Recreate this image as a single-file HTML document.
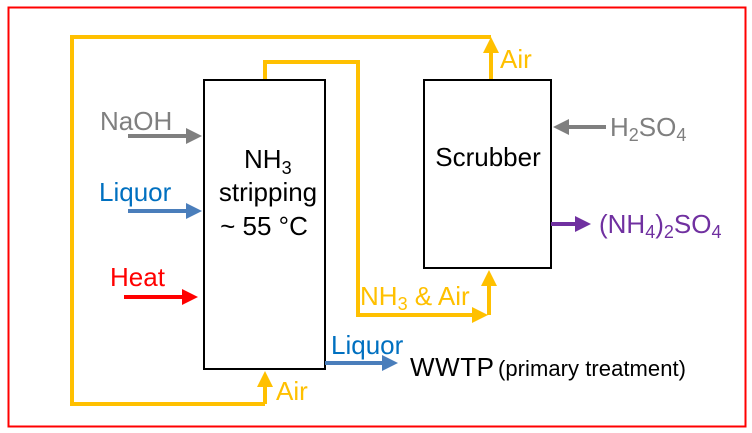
<!DOCTYPE html>
<html><head><meta charset="utf-8"><style>
body{margin:0;background:#fff;}
svg{display:block;font-family:"Liberation Sans",Arial,sans-serif;}
</style></head><body>
<svg width="752" height="433" viewBox="0 0 752 433">
<defs>
<marker id="ay" markerWidth="4" markerHeight="4" refX="3" refY="2" orient="auto" markerUnits="strokeWidth"><path d="M0,0 L4,2 L0,4 z" fill="#ffc000"/></marker>
<marker id="ag" markerWidth="4" markerHeight="4" refX="3" refY="2" orient="auto" markerUnits="strokeWidth"><path d="M0,0 L4,2 L0,4 z" fill="#7f7f7f"/></marker>
<marker id="ab" markerWidth="4" markerHeight="4" refX="3" refY="2" orient="auto" markerUnits="strokeWidth"><path d="M0,0 L4,2 L0,4 z" fill="#4a7ebb"/></marker>
<marker id="ar" markerWidth="4" markerHeight="4" refX="3" refY="2" orient="auto" markerUnits="strokeWidth"><path d="M0,0 L4,2 L0,4 z" fill="#ff0000"/></marker>
<marker id="ap" markerWidth="4" markerHeight="4" refX="3" refY="2" orient="auto" markerUnits="strokeWidth"><path d="M0,0 L4,2 L0,4 z" fill="#7030a0"/></marker>
</defs>
<rect x="8.5" y="7.5" width="737" height="419" fill="none" stroke="#ff0000" stroke-width="2"/>
<polyline points="265,404 72,404 72,37 491,37" fill="none" stroke="#ffc000" stroke-width="4"/>
<line x1="491" y1="82" x2="491" y2="41" stroke="#ffc000" stroke-width="4" marker-end="url(#ay)"/>
<line x1="265" y1="404" x2="265" y2="375" stroke="#ffc000" stroke-width="4" marker-end="url(#ay)"/>
<polyline points="265,80 265,62 358,62 358,315 484,315" fill="none" stroke="#ffc000" stroke-width="4" marker-end="url(#ay)"/>
<line x1="489" y1="315" x2="489" y2="274" stroke="#ffc000" stroke-width="4" marker-end="url(#ay)"/>
<rect x="204" y="80" width="121" height="289" fill="#fff" stroke="#000" stroke-width="2"/>
<rect x="424" y="80" width="127" height="188" fill="#fff" stroke="#000" stroke-width="2"/>
<line x1="128" y1="136" x2="198" y2="136" stroke="#7f7f7f" stroke-width="4" marker-end="url(#ag)"/>
<line x1="128" y1="211" x2="198" y2="211" stroke="#4a7ebb" stroke-width="4" marker-end="url(#ab)"/>
<line x1="124" y1="297" x2="194" y2="297" stroke="#ff0000" stroke-width="4" marker-end="url(#ar)"/>
<line x1="325" y1="363" x2="394" y2="363" stroke="#4a7ebb" stroke-width="4" marker-end="url(#ab)"/>
<line x1="606" y1="127" x2="557" y2="127" stroke="#7f7f7f" stroke-width="4" marker-end="url(#ag)"/>
<line x1="551" y1="224" x2="587" y2="224" stroke="#7030a0" stroke-width="4" marker-end="url(#ap)"/>
<g font-size="26">
<text x="100" y="130" fill="#7f7f7f">NaOH</text>
<text x="99" y="201" fill="#0070c0">Liquor</text>
<text x="110" y="286" fill="#ff0000">Heat</text>
<text x="244" y="168" fill="#000">NH<tspan font-size="18" dy="6">3</tspan></text>
<text x="268" y="201" fill="#000" text-anchor="middle">stripping</text>
<text x="264" y="235" fill="#000" text-anchor="middle">~ 55 °C</text>
<text x="488" y="166" fill="#000" text-anchor="middle">Scrubber</text>
<text x="500" y="68" fill="#ffc000">Air</text>
<text x="276" y="400" fill="#ffc000">Air</text>
<text x="360" y="305" fill="#ffc000">NH<tspan font-size="18" dy="5">3</tspan><tspan dy="-5"> &amp; Air</tspan></text>
<text x="331" y="354" fill="#0070c0">Liquor</text>
<text x="410" y="376" fill="#000" textLength="84">WWTP</text>
<text x="498" y="376" font-size="22" fill="#000" textLength="188">(primary treatment)</text>
<text x="610" y="136" fill="#7f7f7f">H<tspan font-size="18" dy="5">2</tspan><tspan dy="-5">SO</tspan><tspan font-size="18" dy="5">4</tspan></text>
<text x="599" y="233" fill="#7030a0">(NH<tspan font-size="18" dy="5">4</tspan><tspan dy="-5">)</tspan><tspan font-size="18" dy="5">2</tspan><tspan dy="-5">SO</tspan><tspan font-size="18" dy="5">4</tspan></text>
</g>
</svg>
</body></html>
